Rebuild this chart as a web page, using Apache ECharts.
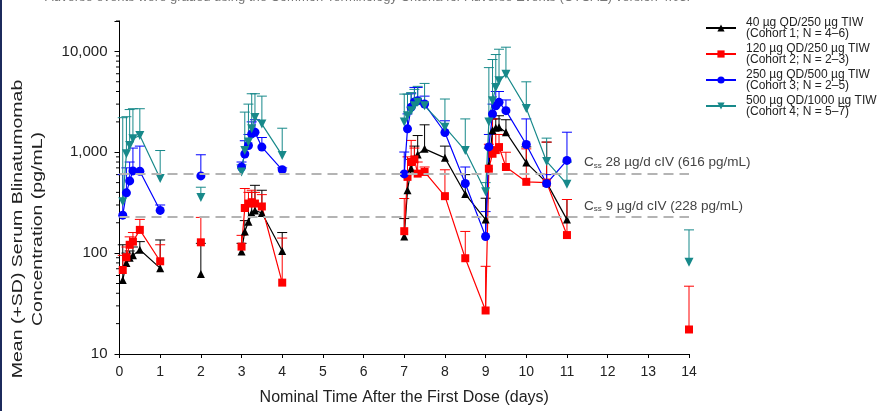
<!DOCTYPE html>
<html>
<head>
<meta charset="utf-8">
<script src="https://cdn.jsdelivr.net/npm/echarts@6/dist/echarts.min.js"></script>
<style>
  html, body { margin: 0; padding: 0; background: #fff; }
  #main { width: 881px; height: 411px; }
</style>
</head>
<body>
<div id="main"></div>
<script>
// nominal sampling times (days)
var days = [0.08, 0.17, 0.25, 0.33, 0.5, 1, 2, 3, 3.08, 3.17, 3.25, 3.33, 3.5, 4,
  7, 7.08, 7.17, 7.25, 7.33, 7.5, 8, 8.5, 9, 9.08, 9.17, 9.25, 9.33, 9.5, 10, 10.5, 11, 14];
// the curves are not joined after these days
var breakAfter = [1, 2, 4, 11];

var cohortNames = [
  '40 µg QD/250 µg TIW\n(Cohort 1; N = 4–6)',
  '120 µg QD/250 µg TIW\n(Cohort 2; N = 2–3)',
  '250 µg QD/500 µg TIW\n(Cohort 3; N = 2–5)',
  '500 µg QD/1000 µg TIW\n(Cohort 4; N = 5–7)'
];

// mean and mean+SD (pg/mL)
var c1Mean = [54, 80, 90, 95, 108, 71, 62, 104, 164, 205, 250, 265, 250, 105,
  146, 420, 690, 870, 950, 1080, 880, 385, 215, 740, 1650, 1750, 1770, 1580, 790, 500, 215, null];
var c1Upper = [121, 100, 105, 115, 130, 135, 125, 125, 210, 300, 400, 470, 420, 160,
  220, 600, 850, 1150, 1464, 1870, 1150, 600, 350, 1100, 2140, 2140, 2300, 2100, 1130, 1260, 340, null];

var c2Mean = [68, 91, 121, 130, 170, 83, 128, 116, 280, 310, 320, 310, 290, 51,
  165, 570, 800, 850, 614, 638, 367, 89, 27, 687, 966, 1050, 1125, 714, 509, 500, 151, 17.5];
var c2Upper = [95, 115, 145, 160, 216, 121, 226, 150, 437, 400, 420, 400, 380, 141,
  348, 900, 1310, 1100, 800, 714, 670, 164, 74, 1200, 2140, 1500, 1500, 1000, 1080, 1260, 340, 47];

var c3Mean = [238, 396, 520, 653, 648, 265, 583, 714, 960, 1167, 1520, 1580, 1125, 670,
  610, 1706, 2800, 3150, 3240, 3004, 1570, 490, 146, 1130, 2396, 2885, 3126, 2585, 1194, 490, 830, null];
var c3Upper = [600, 700, 800, 1100, 1150, 300, 944, 800, 1300, 1500, 2000, 2100, 1400, 700,
  1005, 2400, 3800, 4390, 4390, 3600, 2050, 714, 258, 1500, 3000, 4000, 4000, 3300, 2140, 600, 1580, null];

var c4Mean = [323, 966, 1167, 1360, 1464, 549, 356, 638, 1040, 1260, 1706, 2215, 1900, 930,
  1990, 2300, 2585, 2885, 3126, 2885, 1772, 1040, 405, 1990, 3240, 4390, 5100, 5930, 2720, 811, 482, 81];
var c4Upper = [2200, 2250, 2650, 2700, 2700, 1040, 450, 750, 2500, 3000, 3800, 3800, 3600, 1730,
  3770, 3770, 3900, 4200, 4500, 4810, 3370, 2140, 500, 6900, 8300, 9300, 10500, 11000, 4990, 1380, 800, 170];

// steady-state reference lines
var refValues = [616, 228];
var refLabels = ['C{s|ss} 28 µg/d cIV (616 pg/mL)', 'C{s|ss} 9 µg/d cIV (228 pg/mL)'];

var yTickLabels = [10, 100, 1000, 10000];

var colors = ['#000000', '#ff0000', '#0000ff', '#17898a'];
var symbols = ['triangle', 'rect', 'circle', 'triangle'];
var rotates = [0, 0, 0, 180];
var sizes = [8, 8, 9, 9];
var means = [c1Mean, c2Mean, c3Mean, c4Mean];
var uppers = [c1Upper, c2Upper, c3Upper, c4Upper];

function lineData(vals) {
  var out = [];
  days.forEach(function (d, i) {
    if (vals[i] == null) return;
    out.push([d, vals[i]]);
    if (breakAfter.indexOf(d) >= 0) out.push([d + 0.01, '-']);
  });
  return out;
}

function barData(vals, ups) {
  var out = [];
  days.forEach(function (d, i) {
    if (vals[i] == null || ups[i] == null) return;
    out.push([d, vals[i], ups[i]]);
  });
  return out;
}

// minor ticks of the log axis (2..9 in each decade)
var minorTicks = [];
[10, 100, 1000, 10000].forEach(function (dec) {
  for (var k = 2; k <= 9; k++) {
    if (dec * k <= 20000) minorTicks.push([0, dec * k]);
  }
});

var series = [];

series.push({
  type: 'custom',
  id: 'minorTicks',
  silent: true,
  data: minorTicks,
  encode: { x: 0, y: 1 },
  renderItem: function (params, api) {
    var p = api.coord([api.value(0), api.value(1)]);
    return {
      type: 'line',
      shape: { x1: p[0] - 3.5, y1: p[1], x2: p[0], y2: p[1] },
      style: { stroke: '#000', lineWidth: 1 }
    };
  }
});

// upper SD whiskers
cohortNames.forEach(function (name, k) {
  series.push({
    type: 'custom',
    id: 'sd' + k,
    silent: true,
    z: 2,
    data: barData(means[k], uppers[k]),
    encode: { x: 0, y: [1, 2] },
    renderItem: function (params, api) {
      var a = api.coord([api.value(0), api.value(1)]);
      var b = api.coord([api.value(0), api.value(2)]);
      return {
        type: 'group',
        children: [
          { type: 'line', shape: { x1: a[0], y1: a[1], x2: b[0], y2: b[1] },
            style: { stroke: colors[k], lineWidth: 1 } },
          { type: 'line', shape: { x1: b[0] - 5, y1: b[1], x2: b[0] + 5, y2: b[1] },
            style: { stroke: colors[k], lineWidth: 1 } }
        ]
      };
    }
  });
});

cohortNames.forEach(function (name, k) {
  var s = {
    type: 'line',
    name: name,
    z: 3,
    data: lineData(means[k]),
    connectNulls: false,
    symbol: symbols[k],
    symbolRotate: rotates[k],
    symbolSize: sizes[k],
    showAllSymbol: true,
    color: colors[k],
    lineStyle: { color: colors[k], width: 1.2 },
    itemStyle: { color: colors[k] },
    emphasis: { disabled: true }
  };
  if (k === 0) {
    s.markLine = {
      silent: true,
      symbol: 'none',
      lineStyle: { color: '#b4b4b4', type: [10, 6], width: 2 },
      data: refValues.map(function (v, i) {
        return {
          yAxis: v,
          label: {
            show: true,
            position: 'end',
            formatter: refLabels[i],
            offset: [-110, -11],
            color: '#444',
            fontSize: 13.5,
            fontFamily: 'Liberation Sans',
            rich: { s: { fontSize: 8, verticalAlign: 'bottom', color: '#444' } }
          }
        };
      })
    };
  }
  series.push(s);
});

var chart = echarts.init(document.getElementById('main'));
chart.setOption({
  animation: false,
  color: colors,
  textStyle: { fontFamily: 'Liberation Sans' },
  grid: { left: 119.5, right: 192, top: 21, bottom: 54.5 },
  legend: {
    data: cohortNames,
    orient: 'vertical',
    left: 700,
    top: 8,
    itemWidth: 30,
    itemHeight: 9,
    itemGap: -4,
    selectedMode: false,
    textStyle: { fontSize: 12, lineHeight: 11, color: '#222', padding: [8, 0, 0, 5] }
  },
  xAxis: {
    type: 'value',
    min: 0,
    max: 14,
    interval: 1,
    name: 'Nominal Time After the First Dose (days)',
    nameLocation: 'middle',
    nameGap: 36,
    nameTextStyle: { fontSize: 16, color: '#222' },
    axisLine: { lineStyle: { color: '#000', width: 1 } },
    axisTick: { length: 4, lineStyle: { color: '#000' } },
    axisLabel: { fontSize: 14, color: '#222', margin: 11 },
    splitLine: { show: false }
  },
  yAxis: {
    type: 'log',
    logBase: 10,
    min: 10,
    max: 20000,
    axisLine: { show: true, lineStyle: { color: '#000', width: 1 } },
    axisTick: { show: true, length: 5, lineStyle: { color: '#000' } },
    axisLabel: {
      fontSize: 15,
      color: '#222',
      margin: 12,
      formatter: function (v) {
        var hit = yTickLabels.filter(function (t) { return Math.abs(t - v) < 1e-6 * t; });
        return hit.length ? hit[0].toLocaleString('en-US') : '';
      }
    },
    splitLine: { show: false }
  },
  graphic: [
    { type: 'rect', left: 0, top: 0, shape: { width: 2, height: 411 }, style: { fill: '#1c2a5c' } },
    {
      type: 'text', x: 45, y: -9,
      style: { text: 'Adverse events were graded using the Common Terminology Criteria for Adverse Events (CTCAE) version 4.03.',
        fontSize: 13, fill: '#777', fontFamily: 'Liberation Sans' }
    },
    {
      type: 'text', x: 28, y: 229, rotation: Math.PI / 2, scaleX: 1.3,
      style: {
        text: 'Mean (+SD) Serum Blinatumomab\nConcentration (pg/mL)',
        fontSize: 15, lineHeight: 20, fill: '#222', fontFamily: 'Liberation Sans',
        align: 'center', verticalAlign: 'middle'
      }
    }
  ],
  series: series
});
</script>
</body>
</html>
